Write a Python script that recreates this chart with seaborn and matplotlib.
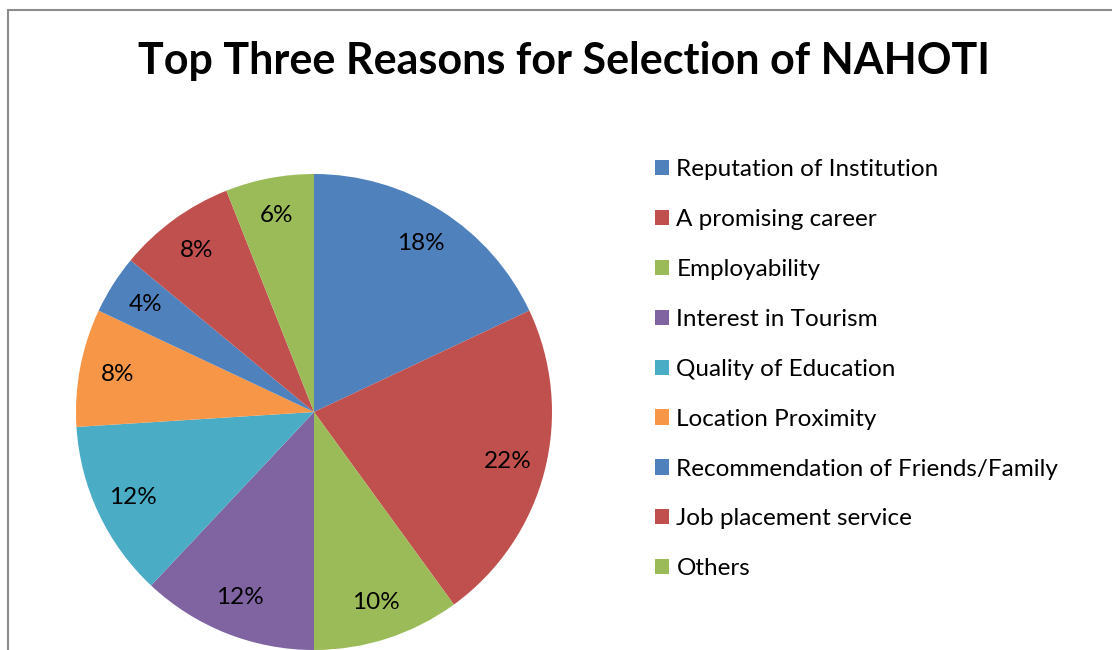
import matplotlib
matplotlib.use("Agg")
import matplotlib.pyplot as plt
import seaborn as sns

# data
reasons = [
    "Reputation of Institution",
    "A promising career",
    "Employability",
    "Interest in Tourism",
    "Quality of Education",
    "Location Proximity",
    "Recommendation of Friends/Family",
    "Job placement service",
    "Others",
]
shares = [18, 22, 10, 12, 12, 8, 4, 8, 6]
slice_colors = ["#4F81BD", "#C0504D", "#9BBB59", "#8064A2", "#4BACC6",
                "#F79646", "#4F81BD", "#C0504D", "#9BBB59"]

sns.set_theme(style="white")
plt.rcParams["font.family"] = ["Lato", "DejaVu Sans"]
plt.rcParams["text.color"] = "black"

W, H = 1112, 650
fig = plt.figure(figsize=(W / 100, H / 100), dpi=100)
ax = fig.add_axes([0, 0, 1, 1])

palette = sns.color_palette(slice_colors)
wedges, texts, autotexts = ax.pie(
    shares,
    colors=palette,
    startangle=90,
    counterclock=False,
    center=(314, H - 412),
    radius=238,
    autopct="%1.0f%%",
    pctdistance=0.84,
    textprops={"fontsize": 17.5, "color": "black"},
    wedgeprops={"linewidth": 0},
)
ax.set_xlim(0, W)
ax.set_ylim(0, H)
ax.set_aspect("equal")
ax.axis("off")

fig.text(564 / W, 1 - 61 / H, "Top Three Reasons for Selection of NAHOTI",
         ha="center", va="center", fontsize=31, fontweight="bold",
         color="black")

leg = fig.legend(wedges, reasons, loc="upper left",
                 bbox_to_anchor=(655 / W, 1 - 159 / H),
                 frameon=False, fontsize=17.5, handlelength=0.58,
                 handleheight=0.58, handletextpad=0.3, labelspacing=1.19,
                 borderpad=0, borderaxespad=0)
for t in leg.get_texts():
    t.set_color("black")

# chart area border (only left and top edges are visible)
fig.add_artist(plt.Line2D([7.5 / W, 7.5 / W], [0, 1 - 9.5 / H],
                          transform=fig.transFigure, color="#8c8c8c", lw=1.5))
fig.add_artist(plt.Line2D([7.5 / W, 1], [1 - 9.5 / H, 1 - 9.5 / H],
                          transform=fig.transFigure, color="#8c8c8c", lw=1.5))

fig.savefig("out.png", dpi=100)
